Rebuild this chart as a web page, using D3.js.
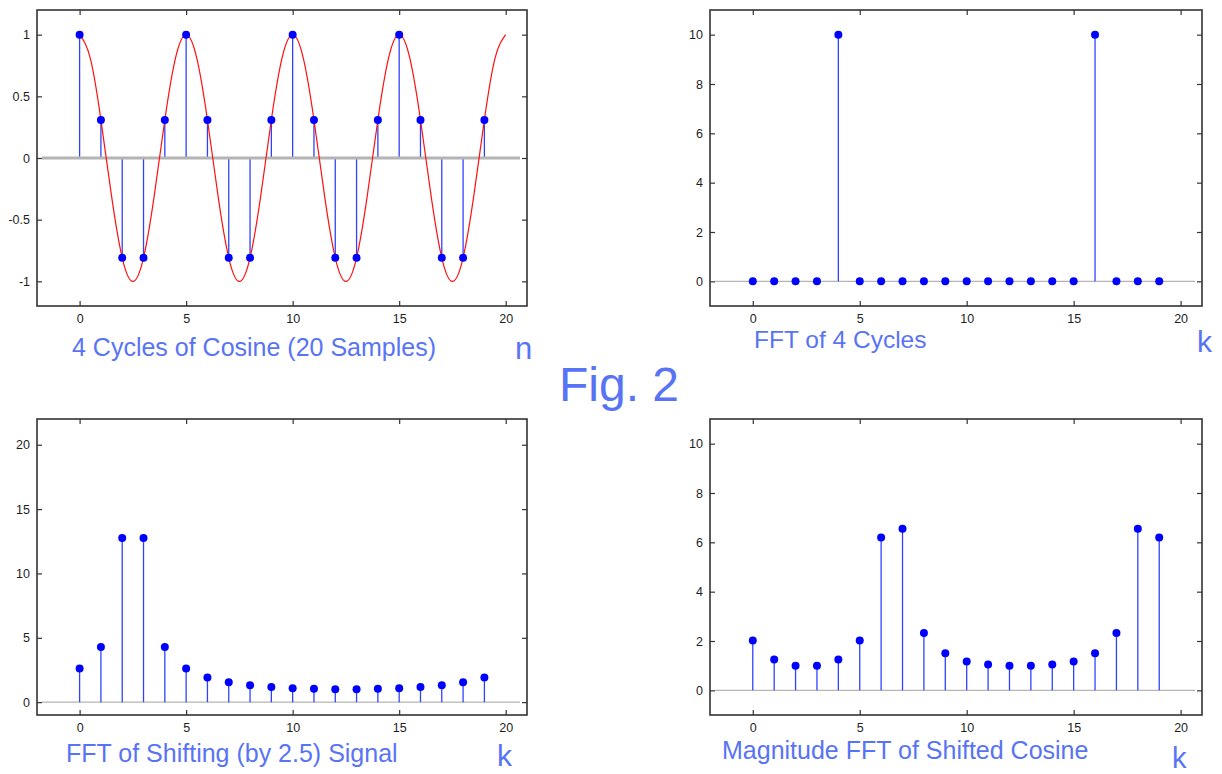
<!DOCTYPE html>
<html>
<head>
<meta charset="utf-8">
<script src="https://cdn.jsdelivr.net/npm/d3@7"></script>
<style>
  body { margin: 0; background: #fff; }
  svg { display: block; }
  .tick text { font-family: "Liberation Sans", Arial, sans-serif; font-size: 12.5px; fill: #1e1e1e; }
  .caption { font-family: "Liberation Sans", Arial, sans-serif; fill: #5874f4; }
</style>
</head>
<body>
<div id="chart"></div>
<script>
// sample index shared by all four stem plots
const sampleIndex = [0, 1, 2, 3, 4, 5, 6, 7, 8, 9, 10, 11, 12, 13, 14, 15, 16, 17, 18, 19];

// panel 1 : 4 cycles of cosine, 20 samples
const cosineSamples = [1, 0.309, -0.809, -0.809, 0.309, 1, 0.309, -0.809, -0.809, 0.309,
                       1, 0.309, -0.809, -0.809, 0.309, 1, 0.309, -0.809, -0.809, 0.309];
// red continuous curve, read every half step
const curveX = [0, 0.5, 1, 1.5, 2, 2.5, 3, 3.5, 4, 4.5, 5, 5.5, 6, 6.5, 7, 7.5, 8, 8.5, 9, 9.5,
                10, 10.5, 11, 11.5, 12, 12.5, 13, 13.5, 14, 14.5, 15, 15.5, 16, 16.5, 17, 17.5, 18, 18.5, 19, 19.5, 20];
const curveY = [1, 0.809, 0.309, -0.309, -0.809, -1, -0.809, -0.309, 0.309, 0.809,
                1, 0.809, 0.309, -0.309, -0.809, -1, -0.809, -0.309, 0.309, 0.809,
                1, 0.809, 0.309, -0.309, -0.809, -1, -0.809, -0.309, 0.309, 0.809,
                1, 0.809, 0.309, -0.309, -0.809, -1, -0.809, -0.309, 0.309, 0.809, 1];

// panel 2 : FFT of 4 cycles
const fftFourCycles = [0, 0, 0, 0, 10, 0, 0, 0, 0, 0, 0, 0, 0, 0, 0, 0, 10, 0, 0, 0];

// panel 3 : FFT of shifting (by 2.5) signal
const fftShifting = [2.61, 4.29, 12.75, 12.75, 4.29, 2.61, 1.92, 1.54, 1.32, 1.17,
                     1.08, 1.03, 1.0, 1.0, 1.03, 1.08, 1.17, 1.32, 1.54, 1.92];

// panel 4 : magnitude FFT of shifted cosine
const fftShiftedCosine = [2.02, 1.25, 1.0, 1.0, 1.25, 2.02, 6.2, 6.55, 2.32, 1.5,
                          1.17, 1.05, 1.0, 1.0, 1.05, 1.17, 1.5, 2.32, 6.55, 6.2];

// tick labels
const xTicks = [0, 5, 10, 15, 20];
const yTicksCosine = [-1, -0.5, 0, 0.5, 1];
const yTicksFour = [0, 2, 4, 6, 8, 10];
const yTicksShift = [0, 5, 10, 15, 20];
const yTicksMag = [0, 2, 4, 6, 8, 10];

const svg = d3.select('#chart').append('svg')
  .attr('width', 1222)
  .attr('height', 774);

// draws one MATLAB style stem panel into the svg
function drawStemPanel(opts) {
  const x = d3.scaleLinear().domain([-2, 21]).range([opts.left, opts.right]);
  const y = d3.scaleLinear().domain(opts.yDomain).range([opts.bottom, opts.top]);
  const g = svg.append('g');

  // zero baseline, slightly inset like matlab
  const drawBaseline = () => g.append('line')
    .attr('x1', opts.left + 5).attr('x2', opts.right - 7)
    .attr('y1', y(0)).attr('y2', y(0))
    .attr('stroke', '#b4b4b4')
    .attr('stroke-width', opts.thickBase ? 3 : 1.2);

  if (!opts.thickBase) drawBaseline();

  // stems
  g.selectAll('.stem')
    .data(opts.values)
    .enter()
    .append('line')
    .attr('class', 'stem')
    .attr('x1', (d, i) => x(sampleIndex[i]))
    .attr('x2', (d, i) => x(sampleIndex[i]))
    .attr('y1', y(0))
    .attr('y2', d => y(d))
    .attr('stroke', '#2f43ff')
    .attr('stroke-width', 1.3);

  if (opts.thickBase) drawBaseline();

  // optional continuous curve
  if (opts.curve) {
    const line = d3.line()
      .x((d, i) => x(opts.curve.x[i]))
      .y(d => y(d))
      .curve(d3.curveNatural);
    g.append('path')
      .attr('d', line(opts.curve.y))
      .attr('fill', 'none')
      .attr('stroke', '#ff1010')
      .attr('stroke-width', 1.2);
  }

  // markers
  g.selectAll('.marker')
    .data(opts.values)
    .enter()
    .append('circle')
    .attr('class', 'marker')
    .attr('cx', (d, i) => x(sampleIndex[i]))
    .attr('cy', d => y(d))
    .attr('r', 4)
    .attr('fill', '#0000ff');

  // axes with inward ticks on all four sides
  const fmt = d => String(d);
  g.append('g')
    .attr('transform', `translate(0,${opts.bottom})`)
    .call(d3.axisBottom(x).tickValues(xTicks).tickSizeInner(-5).tickSizeOuter(0).tickPadding(8).tickFormat(fmt));
  g.append('g')
    .attr('transform', `translate(0,${opts.top})`)
    .call(d3.axisTop(x).tickValues(xTicks).tickSizeInner(-5).tickSizeOuter(0).tickFormat(''));
  g.append('g')
    .attr('transform', `translate(${opts.left},0)`)
    .call(d3.axisLeft(y).tickValues(opts.yTicks).tickSizeInner(-5).tickSizeOuter(0).tickPadding(7).tickFormat(fmt));
  g.append('g')
    .attr('transform', `translate(${opts.right},0)`)
    .call(d3.axisRight(y).tickValues(opts.yTicks).tickSizeInner(-5).tickSizeOuter(0).tickFormat(''));

  g.selectAll('.domain').remove();
  g.selectAll('.tick line').attr('stroke', '#333').attr('stroke-width', 1.2);

  // the box
  g.append('rect')
    .attr('x', opts.left).attr('y', opts.top)
    .attr('width', opts.right - opts.left)
    .attr('height', opts.bottom - opts.top)
    .attr('fill', 'none')
    .attr('stroke', '#333')
    .attr('stroke-width', 1.6);
}

drawStemPanel({ left: 37, right: 527, top: 10, bottom: 306, yDomain: [-1.2, 1.2],
  yTicks: yTicksCosine, values: cosineSamples, thickBase: true, curve: { x: curveX, y: curveY } });
drawStemPanel({ left: 710, right: 1202, top: 10, bottom: 306, yDomain: [-1, 11],
  yTicks: yTicksFour, values: fftFourCycles });
drawStemPanel({ left: 37, right: 527, top: 419, bottom: 715, yDomain: [-1, 22],
  yTicks: yTicksShift, values: fftShifting });
drawStemPanel({ left: 710, right: 1202, top: 419, bottom: 715, yDomain: [-1, 11],
  yTicks: yTicksMag, values: fftShiftedCosine });

// captions and axis letters
const captions = [
  { text: '4 Cycles of Cosine (20 Samples)', x: 72, y: 356, size: 25 },
  { text: 'n', x: 515, y: 359, size: 31 },
  { text: 'FFT of 4 Cycles', x: 754, y: 348, size: 24.5 },
  { text: 'k', x: 1197, y: 352, size: 30 },
  { text: 'Fig. 2', x: 559, y: 401, size: 48 },
  { text: 'FFT of Shifting (by 2.5) Signal', x: 66, y: 762, size: 25 },
  { text: 'k', x: 497, y: 766, size: 30 },
  { text: 'Magnitude FFT of Shifted Cosine', x: 722, y: 759, size: 25 },
  { text: 'k', x: 1172, y: 768, size: 29 }
];

svg.selectAll('.caption')
  .data(captions)
  .enter()
  .append('text')
  .attr('class', 'caption')
  .attr('x', d => d.x)
  .attr('y', d => d.y)
  .style('font-size', d => d.size + 'px')
  .text(d => d.text);
</script>
</body>
</html>
